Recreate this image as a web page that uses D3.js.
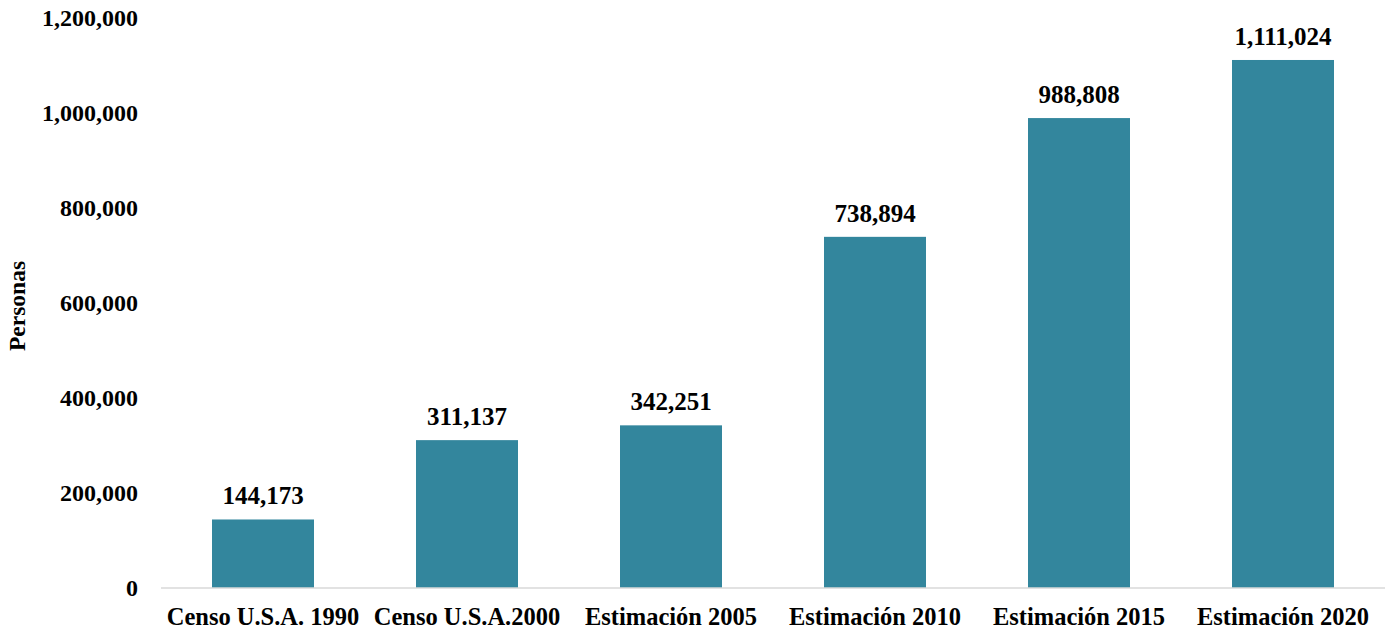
<!DOCTYPE html>
<html><head><meta charset="utf-8">
<script src="https://cdn.jsdelivr.net/npm/d3@7"></script>
<style>body{margin:0;background:#fff}svg{display:block}text{font-family:"Liberation Serif","Times New Roman",serif;font-weight:bold;fill:#000}</style>
</head><body><svg id="c" width="1385" height="630"></svg>
<script>
const categories = ["Censo U.S.A. 1990","Censo U.S.A.2000","Estimación 2005","Estimación 2010","Estimación 2015","Estimación 2020"];
const values = [144173, 311137, 342251, 738894, 988808, 1111024];
const yTicks = [0, 200000, 400000, 600000, 800000, 1000000, 1200000];
const yTitle = "Personas";

(function(){
const svg = d3.select("#c");
const mLeft = 161, mRight = 1385, mTop = 17.7, mBottom = 588;
const x = d3.scaleBand().domain(categories).range([mLeft, mRight]).paddingInner(0.5).paddingOuter(0.25);
const y = d3.scaleLinear().domain([0, 1200000]).range([mBottom, mTop]);
const fmt = d3.format(",");

svg.append("g").selectAll("text").data(yTicks).join("text")
  .attr("x", 138).attr("y", d => y(d)).attr("dy", "0.35em")
  .attr("text-anchor", "end").attr("font-size", 24).text(d => fmt(d));

svg.append("g").selectAll("rect").data(values).join("rect")
  .attr("x", (d,i) => x(categories[i])).attr("width", x.bandwidth())
  .attr("y", d => y(d)).attr("height", d => y(0) - y(d))
  .attr("fill", "#33869d");

svg.append("line").attr("x1", mLeft).attr("x2", mRight).attr("y1", y(0)).attr("y2", y(0))
  .attr("stroke", "#d9d9d9").attr("stroke-width", 1.5);

svg.append("g").selectAll("text").data(values).join("text")
  .attr("x", (d,i) => x(categories[i]) + x.bandwidth()/2).attr("y", d => y(d) - 15)
  .attr("text-anchor", "middle").attr("font-size", 25).text(d => fmt(d));

svg.append("g").selectAll("text").data(categories).join("text")
  .attr("x", d => x(d) + x.bandwidth()/2).attr("y", 625)
  .attr("text-anchor", "middle").attr("font-size", 24.5).text(d => d);

svg.append("text").attr("transform", "translate(25,306) rotate(-90)")
  .attr("text-anchor", "middle").attr("font-size", 23.5).text(yTitle);
})();
</script></body></html>
